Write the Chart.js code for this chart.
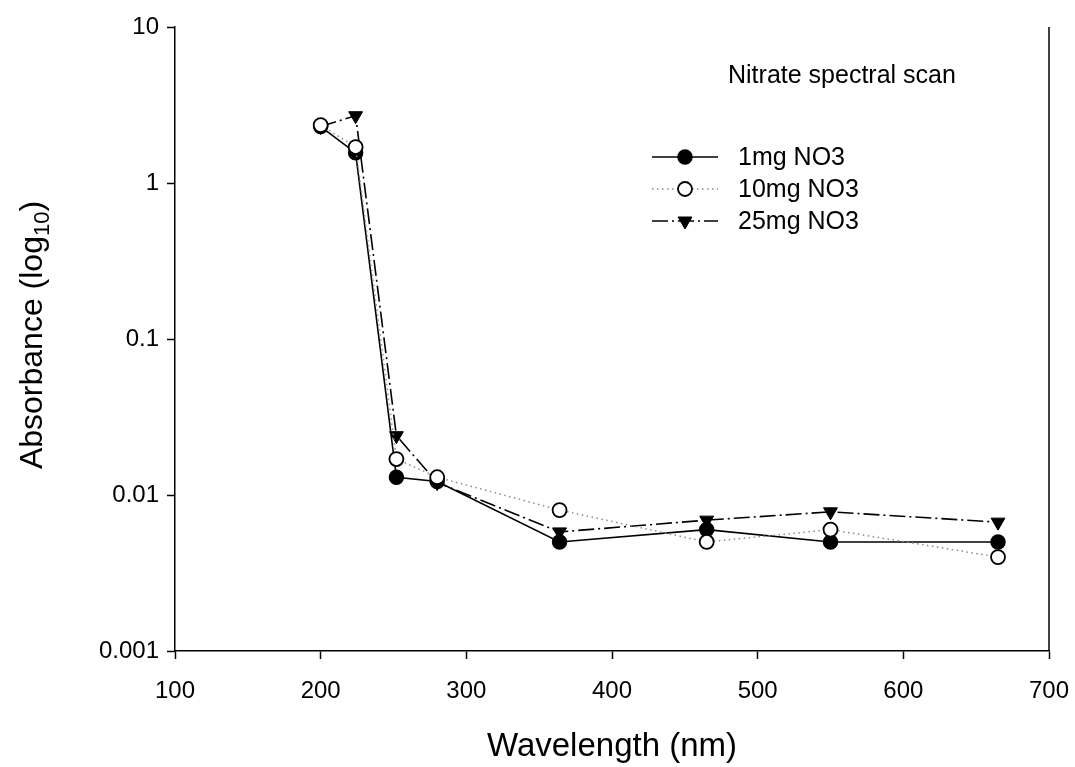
<!DOCTYPE html>
<html>
<head>
<meta charset="utf-8">
<script src="https://cdn.jsdelivr.net/npm/chart.js@4.4.1/dist/chart.umd.min.js"></script>
<style>
  html, body { margin: 0; padding: 0; background: #fff; }
  #wrap { width: 1075px; height: 767px; }
</style>
</head>
<body>
<div id="wrap"><canvas id="chartScan" width="1075" height="767"></canvas></div>
<script>
// --- datos ---
const wavelengths = [200, 224, 252, 280, 364, 465, 550, 665];
const abs1mg  = [2.3, 1.56, 0.013, 0.0122, 0.005, 0.006, 0.005, 0.005];
const abs10mg = [2.35, 1.7, 0.017, 0.013, 0.008, 0.005, 0.006, 0.004];
const abs25mg = [2.3, 2.7, 0.024, 0.012, 0.0058, 0.0069, 0.0078, 0.0067];
const xTicks = [100, 200, 300, 400, 500, 600, 700];
const yTicks = [0.001, 0.01, 0.1, 1, 10];
const seriesNames = ['1mg NO3', '10mg NO3', '25mg NO3'];
const chartTitle = 'Nitrate spectral scan';

const FONT = 'Arial, "Liberation Sans", Helvetica, sans-serif';

const toPoints = (ys) => wavelengths.map((x, i) => ({ x: x, y: ys[i] }));

// Marco derecho + titulos de ejes + leyenda dibujados a mano
const extrasPlugin = {
    id: 'extras',
    afterDraw(chart) {
        const ctx = chart.ctx;
        const a = chart.chartArea;
        ctx.save();

        // linea derecha del marco
        ctx.strokeStyle = '#000';
        ctx.lineWidth = 1.5;
        ctx.beginPath();
        ctx.moveTo(a.right, a.top);
        ctx.lineTo(a.right, a.bottom);
        ctx.stroke();

        // titulo eje X
        ctx.fillStyle = '#000';
        ctx.font = '33px ' + FONT;
        ctx.textAlign = 'center';
        ctx.textBaseline = 'middle';
        ctx.fillText('Wavelength (nm)', (a.left + a.right) / 2, 747);

        // titulo eje Y con subindice
        ctx.save();
        ctx.translate(33, (a.top + a.bottom) / 2 - 4);
        ctx.rotate(-Math.PI / 2);
        const main = 'Absorbance (log';
        ctx.font = '32px ' + FONT;
        const w1 = ctx.measureText(main).width;
        ctx.font = '22px ' + FONT;
        const w2 = ctx.measureText('10').width;
        ctx.font = '32px ' + FONT;
        const w3 = ctx.measureText(')').width;
        let x0 = -(w1 + w2 + w3) / 2;
        ctx.textAlign = 'left';
        ctx.textBaseline = 'middle';
        ctx.fillText(main, x0, 0);
        ctx.font = '22px ' + FONT;
        ctx.fillText('10', x0 + w1, 10);
        ctx.font = '32px ' + FONT;
        ctx.fillText(')', x0 + w1 + w2, 0);
        ctx.restore();

        // titulo de leyenda
        ctx.font = '25px ' + FONT;
        ctx.textAlign = 'left';
        ctx.fillText(chartTitle, 728, 76);

        // items de leyenda
        const rows = [157, 189, 221];
        chart.data.datasets.forEach((ds, i) => {
            const y = rows[i];
            ctx.save();
            ctx.strokeStyle = ds.borderColor;
            ctx.lineWidth = ds.borderWidth;
            ctx.setLineDash(ds.borderDash || []);
            ctx.beginPath();
            ctx.moveTo(652, y);
            ctx.lineTo(718, y);
            ctx.stroke();
            ctx.restore();
            ctx.save();
            ctx.fillStyle = ds.pointBackgroundColor;
            ctx.strokeStyle = ds.pointBorderColor;
            ctx.lineWidth = ds.pointBorderWidth;
            Chart.helpers.drawPoint(ctx, {
                pointStyle: ds.pointStyle,
                rotation: ds.pointRotation || 0,
                radius: ds.pointRadius,
                borderWidth: ds.pointBorderWidth
            }, 685, y);
            ctx.restore();
            ctx.fillStyle = '#000';
            ctx.font = '25px ' + FONT;
            ctx.textAlign = 'left';
            ctx.textBaseline = 'middle';
            ctx.fillText(ds.label, 738, y + 1);
        });
        ctx.restore();
    }
};

const ctxScan = document.getElementById('chartScan').getContext('2d');

window.chartScan = new Chart(ctxScan, {
    type: 'line',
    data: {
        datasets: [
            {
                label: seriesNames[0],
                data: toPoints(abs1mg),
                borderColor: '#000',
                borderWidth: 1.6,
                pointStyle: 'circle',
                pointRadius: 7,
                pointBackgroundColor: '#000',
                pointBorderColor: '#000',
                pointBorderWidth: 1.5,
                order: 1
            },
            {
                label: seriesNames[1],
                data: toPoints(abs10mg),
                borderColor: '#8a8a8a',
                borderWidth: 1.5,
                borderDash: [1.5, 3.5],
                pointStyle: 'circle',
                pointRadius: 7,
                pointBackgroundColor: '#fff',
                pointBorderColor: '#000',
                pointBorderWidth: 1.8,
                order: 0
            },
            {
                label: seriesNames[2],
                data: toPoints(abs25mg),
                borderColor: '#000',
                borderWidth: 1.6,
                borderDash: [16, 4, 2, 4],
                pointStyle: 'triangle',
                pointRotation: 180,
                pointRadius: 8,
                pointBackgroundColor: '#000',
                pointBorderColor: '#000',
                pointBorderWidth: 1,
                order: 2
            }
        ]
    },
    options: {
        responsive: false,
        animation: false,
        devicePixelRatio: 1,
        layout: { padding: { left: 0, right: 26, top: 27, bottom: 0 } },
        plugins: {
            legend: { display: false },
            tooltip: { enabled: false }
        },
        elements: { line: { tension: 0 } },
        scales: {
            x: {
                type: 'linear',
                min: 100,
                max: 700,
                afterFit: (s) => {
                    s.height = 116;
                    s.paddingLeft = 0;
                    s.paddingRight = 0;
                },
                afterBuildTicks: (s) => {
                    s.ticks = xTicks.map(v => ({ value: v }));
                },
                ticks: {
                    color: '#000',
                    font: { family: FONT, size: 24 },
                    padding: 18,
                    maxRotation: 0,
                    callback: (v) => String(v)
                },
                grid: {
                    drawOnChartArea: false,
                    drawTicks: true,
                    tickLength: 8,
                    tickColor: '#000',
                    tickWidth: 1.5
                },
                border: { display: true, color: '#000', width: 1.5 }
            },
            y: {
                type: 'logarithmic',
                min: 0.001,
                max: 10,
                afterFit: (s) => {
                    s.width = 175;
                    s.paddingTop = 0;
                    s.paddingBottom = 0;
                },
                afterBuildTicks: (s) => {
                    s.ticks = yTicks.map(v => ({ value: v }));
                },
                ticks: {
                    color: '#000',
                    font: { family: FONT, size: 24 },
                    padding: 8,
                    callback: (v) => String(v)
                },
                grid: {
                    drawOnChartArea: false,
                    drawTicks: true,
                    tickLength: 8,
                    tickColor: '#000',
                    tickWidth: 1.5
                },
                border: { display: true, color: '#000', width: 1.5 }
            }
        }
    },
    plugins: [extrasPlugin]
});
</script>
</body>
</html>
